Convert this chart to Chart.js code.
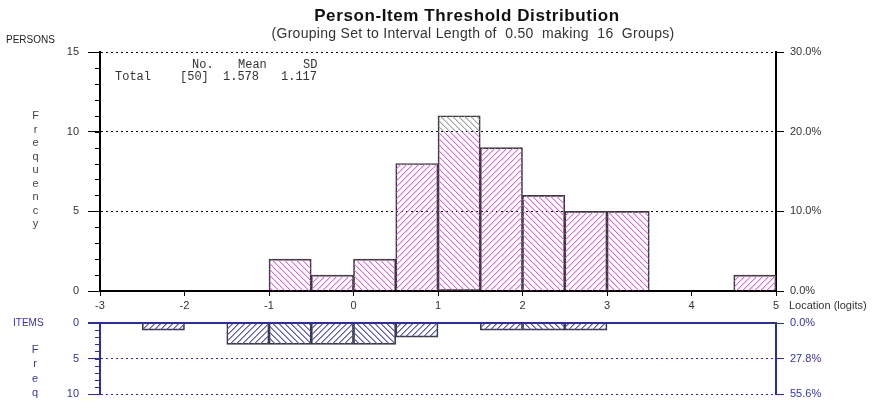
<!DOCTYPE html>
<html>
<head>
<meta charset="utf-8">
<script src="https://cdn.jsdelivr.net/npm/chart.js@4.4.1/dist/chart.umd.min.js"></script>
<style>
  body { margin: 0; background: #fff; }
  #wrap { position: relative; width: 879px; height: 405px; overflow: hidden; font-family: Arial, "Liberation Sans", sans-serif; }
  canvas { position: absolute; left: 0; }
  #top { top: 0; }
  #bottom { top: 315px; }
  .t { position: absolute; white-space: pre; line-height: 1; transform: translateY(-50%); }
  .c { transform: translate(-50%, -50%); }
  .mono { font-family: "Courier New", "Liberation Mono", monospace; font-size: 12px; color: #333; }
  .blue { color: #3434a8; }
</style>
</head>
<body>
<div id="wrap">
  <canvas id="top" width="879" height="315"></canvas>
  <canvas id="bottom" width="879" height="90"></canvas>

  <div class="t c" style="left:467px; top:15px; font-size:17px; font-weight:bold; letter-spacing:0.6px; color:#111;">Person-Item Threshold Distribution</div>
  <div class="t c" style="left:473px; top:33px; font-size:14px; letter-spacing:0.3px; color:#333;">(Grouping Set to Interval Length of  0.50  making  16  Groups)</div>

  <div class="t" style="left:6px; top:40px; font-size:10px; color:#222;">PERSONS</div>
  <div id="freqTop"></div>

  <div class="t mono" style="left:192px; top:65px;">No.</div>
  <div class="t mono" style="left:238px; top:65px;">Mean</div>
  <div class="t mono" style="left:303px; top:65px;">SD</div>
  <div class="t mono" style="left:115px; top:77px;">Total</div>
  <div class="t mono" style="left:180px; top:77px;">[50]</div>
  <div class="t mono" style="left:223px; top:77px;">1.578</div>
  <div class="t mono" style="left:281px; top:77px;">1.117</div>

  <div class="t" style="left:789px; top:305px; font-size:11px; color:#333;">Location (logits)</div>

  <div class="t blue" style="left:13px; top:323px; font-size:10px;">ITEMS</div>
  <div id="freqBottom"></div>
</div>

<script>
// histogram bins, interval length 0.50 from -3 to 5
const binCenters = [-2.75, -2.25, -1.75, -1.25, -0.75, -0.25, 0.25, 0.75,
                    1.25, 1.75, 2.25, 2.75, 3.25, 3.75, 4.25, 4.75];
const personCounts = [0, 0, 0, 0, 2, 1, 2, 8, 11, 9, 6, 5, 5, 0, 0, 1];
// part of the tallest bar that is drawn with grey hatching
const personGreyTop = [0, 0, 0, 0, 0, 0, 0, 0, 1, 0, 0, 0, 0, 0, 0, 0];
const itemCounts = [0, 1, 0, 3, 3, 3, 3, 2, 0, 1, 1, 1, 0, 0, 0, 0];
const logitRange = [-3, 5];
const personFreqMax = 15;
const itemFreqMax = 10;

const personTotal = personCounts.reduce((a, b) => a + b, 0);
const itemTotal = itemCounts.reduce((a, b) => a + b, 0);

const BLUE = '#2c2ca6';
const BLUE_TEXT = '#3434a8';

Chart.defaults.font.family = 'Arial, "Liberation Sans", sans-serif';
Chart.defaults.font.size = 11;
Chart.defaults.color = '#333';

// stacked letters for the vertical axis captions
function stackLetters(id, word, x, y0, step, color) {
    const box = document.getElementById(id);
    word.split('').forEach((ch, i) => {
        const d = document.createElement('div');
        d.className = 't c';
        d.style.left = x + 'px';
        d.style.top = (y0 + i * step) + 'px';
        d.style.fontSize = '11px';
        d.style.color = color;
        d.textContent = ch;
        box.appendChild(d);
    });
}
stackLetters('freqTop', 'Frequency', 35.5, 115, 13.5, '#444');
stackLetters('freqBottom', 'Freq', 35, 349, 14.3, BLUE_TEXT);

// diagonal hatch fills; both directions put a full pixel on even rows at even columns
function hatch(color, slash, soft) {
    const s = 6;
    const c = document.createElement('canvas');
    c.width = s; c.height = s;
    const g = c.getContext('2d');
    g.fillStyle = color;
    for (let i = 0; i < s; i++) {
        const x = slash ? (s - i) % s : i;
        g.globalAlpha = 1;
        g.fillRect(x, i, 1, 1);
        g.globalAlpha = soft;
        g.fillRect((x + 1) % s, i, 1, 1);
    }
    return g.createPattern(c, 'repeat');
}
const pinkFill = [hatch('#dc6cdc', false, 0.4), hatch('#dc6cdc', true, 0.4)];
const greyFill = [hatch('#a0a0a0', false, 0.4), hatch('#a0a0a0', true, 0.4)];
const blueFill = [hatch('#5a5ad2', false, 0.6), hatch('#5a5ad2', true, 0.6)];

// short ticks between the labelled ones on the left axis
const minorTicks = {
    id: 'minorTicks',
    afterDraw(chart, args, opts) {
        const s = chart.scales.y;
        const ctx = chart.ctx;
        ctx.save();
        ctx.strokeStyle = opts.color;
        ctx.lineWidth = 1;
        ctx.beginPath();
        for (let v = s.min; v <= s.max; v += 1) {
            const y = Math.round(s.getPixelForValue(v)) + 0.5;
            ctx.moveTo(chart.chartArea.left - 5, y);
            ctx.lineTo(chart.chartArea.left, y);
        }
        ctx.stroke();
        ctx.restore();
    }
};

const dotted = [2, 3];
// keep tick labels from pushing the plot area in
const noOverhang = s => { s.paddingTop = 0; s.paddingBottom = 0; };

new Chart(document.getElementById('top'), {
    type: 'bar',
    data: {
        datasets: [{
            data: binCenters.map((x, i) => ({ x, y: personCounts[i] - personGreyTop[i] })),
            backgroundColor: ctx => pinkFill[ctx.dataIndex % 2],
            borderColor: '#3a3a3a',
            borderWidth: 1,
            borderSkipped: ctx => personGreyTop[ctx.dataIndex] > 0 ? 'top' : 'start',
            barPercentage: 1,
            categoryPercentage: 1,
            yAxisID: 'y'
        }, {
            data: binCenters.map((x, i) => ({ x, y: personGreyTop[i] })),
            backgroundColor: ctx => greyFill[ctx.dataIndex % 2],
            borderColor: '#3a3a3a',
            borderWidth: 1,
            barPercentage: 1,
            categoryPercentage: 1,
            yAxisID: 'y'
        }]
    },
    options: {
        responsive: false,
        animation: false,
        devicePixelRatio: 1,
        layout: { padding: { top: 52, left: 0, right: 0, bottom: 0 } },
        plugins: {
            legend: { display: false },
            tooltip: { enabled: false },
            minorTicks: { color: '#000' }
        },
        scales: {
            x: {
                type: 'linear',
                min: logitRange[0],
                max: logitRange[1],
                offset: false,
                stacked: true,
                ticks: { stepSize: 1, padding: 3, color: '#333', font: { size: 11 } },
                grid: { offset: false, drawOnChartArea: false, tickLength: 5, color: '#000' },
                border: { color: '#000', width: 2 },
                afterFit: s => { s.height = 24; }
            },
            y: {
                position: 'left',
                min: 0,
                max: personFreqMax,
                stacked: true,
                ticks: { stepSize: 5, padding: 9, color: '#333' },
                grid: { tickLength: 12, color: '#000', tickColor: '#000', lineWidth: 1 },
                border: { color: '#000', width: 2, dash: dotted },
                afterFit: s => { s.width = 100; }
            },
            y2: {
                position: 'right',
                min: 0,
                max: personFreqMax,
                ticks: {
                    stepSize: 5, padding: 6, color: '#333',
                    callback: v => (v / personTotal * 100).toFixed(1) + '%'
                },
                grid: { drawOnChartArea: false, tickLength: 8, tickColor: '#000' },
                border: { color: '#000', width: 2 },
                afterFit: s => { s.width = 103; }
            }
        }
    },
    plugins: [minorTicks]
});

new Chart(document.getElementById('bottom'), {
    type: 'bar',
    data: {
        datasets: [{
            data: binCenters.map((x, i) => ({ x, y: itemCounts[i] })),
            backgroundColor: ctx => blueFill[ctx.dataIndex % 2],
            borderColor: '#3a3a3a',
            borderWidth: 1,
            barPercentage: 1,
            categoryPercentage: 1,
            yAxisID: 'y'
        }]
    },
    options: {
        responsive: false,
        animation: false,
        devicePixelRatio: 1,
        layout: { padding: { top: 8, left: 0, right: 0, bottom: 11 } },
        plugins: {
            legend: { display: false },
            tooltip: { enabled: false },
            minorTicks: { color: BLUE }
        },
        scales: {
            x: {
                type: 'linear',
                min: logitRange[0],
                max: logitRange[1],
                offset: false,
                display: false,
                grid: { offset: false }
            },
            y: {
                position: 'left',
                reverse: true,
                min: 0,
                max: itemFreqMax,
                ticks: { stepSize: 5, padding: 9, color: BLUE_TEXT },
                grid: {
                    tickLength: 12, color: BLUE, tickColor: BLUE,
                    lineWidth: ctx => ctx.tick && ctx.tick.value === 0 ? 2 : 1
                },
                border: {
                    color: BLUE, width: 2,
                    dash: ctx => ctx.tick && ctx.tick.value === 0 ? [] : dotted
                },
                afterFit: s => { s.width = 100; noOverhang(s); }
            },
            y2: {
                position: 'right',
                reverse: true,
                min: 0,
                max: itemFreqMax,
                ticks: {
                    stepSize: 5, padding: 6, color: BLUE_TEXT,
                    callback: v => (v / itemTotal * 100).toFixed(1) + '%'
                },
                grid: { drawOnChartArea: false, tickLength: 8, tickColor: BLUE },
                border: { color: BLUE, width: 2 },
                afterFit: s => { s.width = 103; noOverhang(s); }
            }
        }
    },
    plugins: [minorTicks]
});
</script>
</body>
</html>
